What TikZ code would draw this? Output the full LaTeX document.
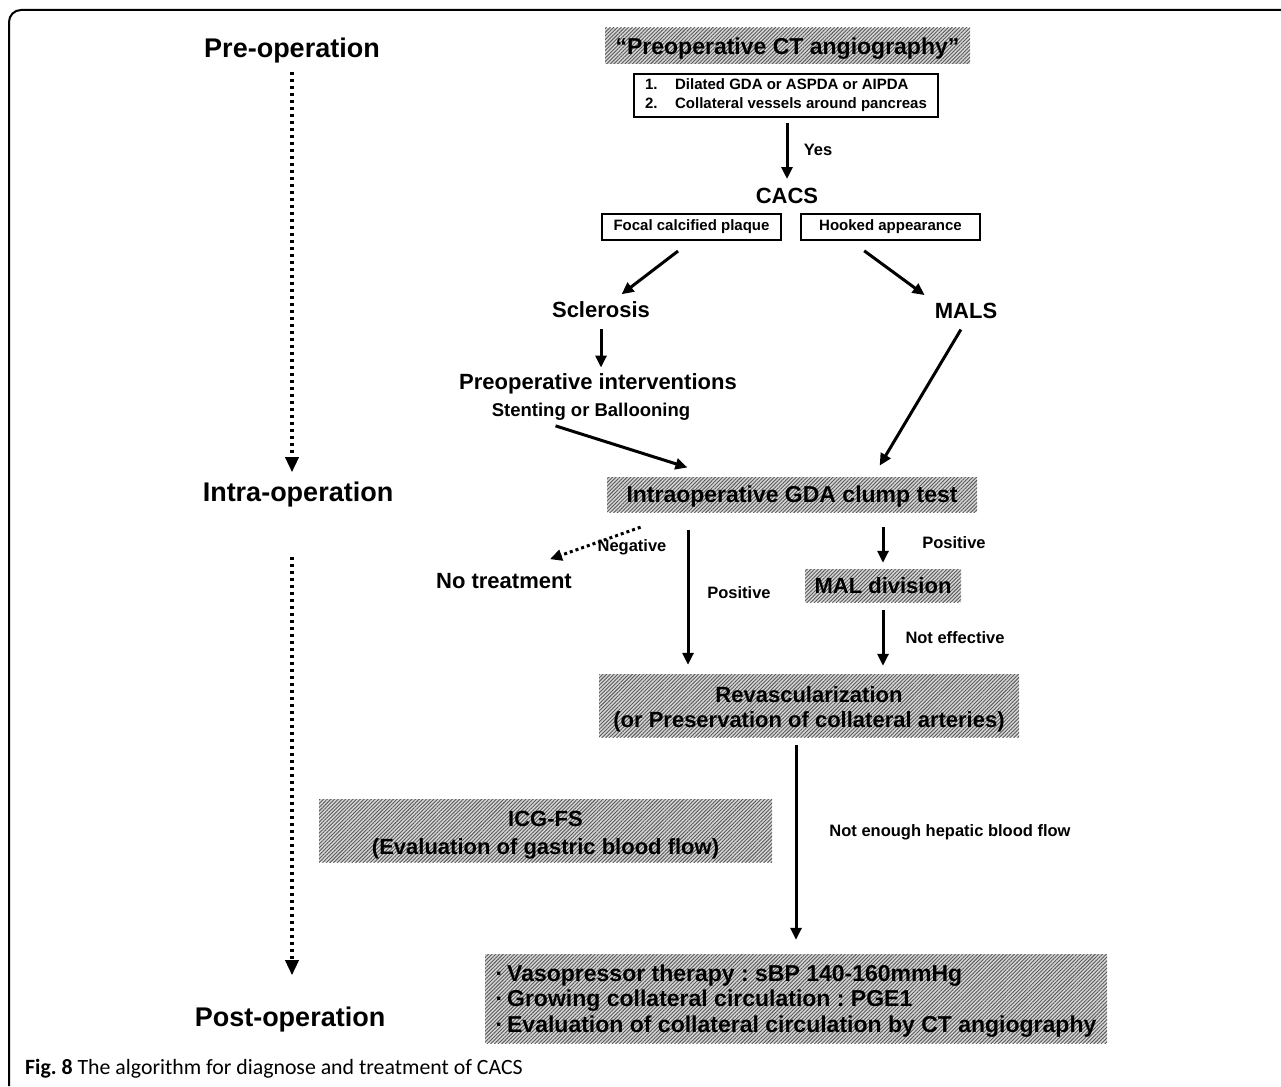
\documentclass[tikz,border=0pt]{standalone}
\usepackage{fontspec}
\setmainfont{Liberation Sans}
\newfontfamily\capfont{Carlito}
\usetikzlibrary{arrows.meta,patterns.meta}
\frenchspacing

\begin{document}
\begin{tikzpicture}[
		x=1pt, y=-1pt,
		every node/.style={inner sep=2pt, font=\bfseries},
		heading/.style={font=\fontsize{27}{32}\selectfont\bfseries},
		stage/.style={font=\fontsize{22}{26}\selectfont\bfseries},
		tag/.style={font=\fontsize{16.5}{20}\selectfont\bfseries},
		hatchbox/.style={rectangle, inner sep=0pt, align=center,
			font=\fontsize{22}{25}\selectfont\bfseries,
			preaction={fill=gray!32},
			pattern={Lines[angle=45, distance=2.6pt, line width=0.9pt]}, pattern color=black!65},
		plainbox/.style={rectangle, draw, line width=1.5pt, inner sep=0pt,
			font=\fontsize{15}{18}\selectfont\bfseries},
		arr/.style={line width=3pt, -{Triangle[length=12pt, width=11pt]}},
		dotarr/.style={line width=3.5pt, dash pattern=on 3.5pt off 3.5pt,
			-{Triangle[length=15pt, width=13pt]}}
	]
  \useasboundingbox (0,0) rectangle (1281,1086);
  \draw [line width=2pt, rounded corners=12pt] (9,1086) -- (9,10) -- (1281,10);

  % stages on the left
  \node (pre_op) [heading] at (292,51) {Pre-operation};
  \node (intra_op) [heading] at (298,495) {Intra-operation};
  \node (post_op) [heading] at (290,1020) {Post-operation};
  \draw (pre_op) edge [dotarr, shorten <=6pt, shorten >=8pt] (pre_op |- intra_op.north);
  \draw (pre_op |- intra_op.south) edge [dotarr, shorten <=47pt, shorten >=30pt] (pre_op |- post_op.north);

  % pre-operative work-up
  \node (ct_title) [hatchbox, minimum width=365, minimum height=36, text depth=0pt, font=\fontsize{23}{27}\selectfont\bfseries] at (787.5,46) {“Preoperative CT angiography”};
  \node (findings) [plainbox, minimum width=304, minimum height=43, align=left, font=\fontsize{15}{19}\selectfont\bfseries] at (786,95.5)
    {\makebox[30pt][l]{1.}Dilated GDA or ASPDA or AIPDA\\\makebox[30pt][l]{2.}Collateral vessels around pancreas};
  \node (cacs) [stage] at (787,196) {CACS};
  \node (yes_lab) [tag] at (818,150) {Yes};
  \node (focal) [plainbox, minimum width=179, minimum height=26] at (691.5,227) {Focal calcified plaque};
  \node (hooked) [plainbox, minimum width=179, minimum height=26] at (890.5,227) {Hooked appearance};
  \node (sclerosis) [stage] at (601,310) {Sclerosis};
  \node (mals) [stage] at (966,311) {MALS};
  \node (interv) [stage] at (598,384) {Preoperative interventions};
  \node (stent) [font=\fontsize{18.5}{22}\selectfont\bfseries] at (591,412) {Stenting or Ballooning};

  \draw (findings.south -| cacs) edge [arr, shorten <=5pt, shorten >=7pt] (cacs);
  \draw (focal.south) edge [arr, shorten <=17pt, shorten >=9pt] (sclerosis);
  \draw ([xshift=-40pt]hooked.south) edge [arr, shorten <=17pt, shorten >=10pt] (mals.north west);
  \draw (sclerosis) edge [arr, shorten <=9pt, shorten >=4pt] (sclerosis |- interv.north);

  % intra-operative decisions
  \node (clamp) [hatchbox, minimum width=370, minimum height=35, text depth=0pt, font=\fontsize{23}{27}\selectfont\bfseries] at (792,494.5) {Intraoperative GDA clump test};
  \node (notreat) [stage] at (504,581) {No treatment};
  \node (neg_lab) [tag] at (632,547) {Negative};
  \node (pos_left) [tag] at (739,593) {Positive};
  \node (pos_right) [tag] at (954,543) {Positive};
  \node (mal_div) [hatchbox, minimum width=156, minimum height=33] at (883,585.5) {MAL division};
  \node (noteff_lab) [tag] at (955,638) {Not effective};
  \node (revasc) [hatchbox, minimum width=420, minimum height=63] at (809,705.5) {\rule{0pt}{24pt}Revascularization\\(or Preservation of collateral arteries)};

  \draw ([xshift=-45pt]stent.south) edge [arr, shorten <=10pt, shorten >=31pt] ([xshift=-75pt]clamp.north);
  \draw (mals.south) edge [arr, shorten <=10pt, shorten >=13pt] ([xshift=81pt]clamp.north);
  \draw ([xshift=-109pt]clamp.south) edge [dotarr, line width=3pt, dash pattern=on 3pt off 3pt, -{Triangle[length=12pt, width=11pt]}, shorten <=45pt, shorten >=36pt] ([xshift=12pt]notreat.north);
  \draw ([xshift=-104pt]clamp.south) edge [arr, shorten <=18pt, shorten >=9pt] ([xshift=-121pt]revasc.north);
  \draw (clamp.south -| mal_div) edge [arr, shorten <=15pt, shorten >=6pt] (mal_div);
  \draw (mal_div) edge [arr, shorten <=8pt, shorten >=8pt] (mal_div |- revasc.north);

  % post-operative care
  \node (icg) [hatchbox, minimum width=453, minimum height=63, font=\fontsize{22}{28}\selectfont\bfseries] at (545.5,830.5) {\rule{0pt}{24pt}ICG-FS\\(Evaluation of gastric blood flow)};
  \node (hepatic_lab) [tag] at (950,832) {Not enough hepatic blood flow};
  \node (postcare) [hatchbox, minimum width=622, minimum height=89, align=left, font=\fontsize{23}{25.5}\selectfont\bfseries] at (796,998.5)
    {\rule{0pt}{21pt}·\,Vasopressor therapy : sBP 140-160mmHg\\·\,Growing collateral circulation : PGE1\\·\,Evaluation of collateral circulation by CT angiography};
  \draw (revasc.south -| postcare) edge [arr, shorten <=8pt, shorten >=14pt] (postcare);

  \node (caption) [anchor=west, font=\capfont\fontsize{21.8}{25}\selectfont] at (23,1069) {\textbf{Fig. 8} The algorithm for diagnose and treatment of CACS};
\end{tikzpicture}
\end{document}
